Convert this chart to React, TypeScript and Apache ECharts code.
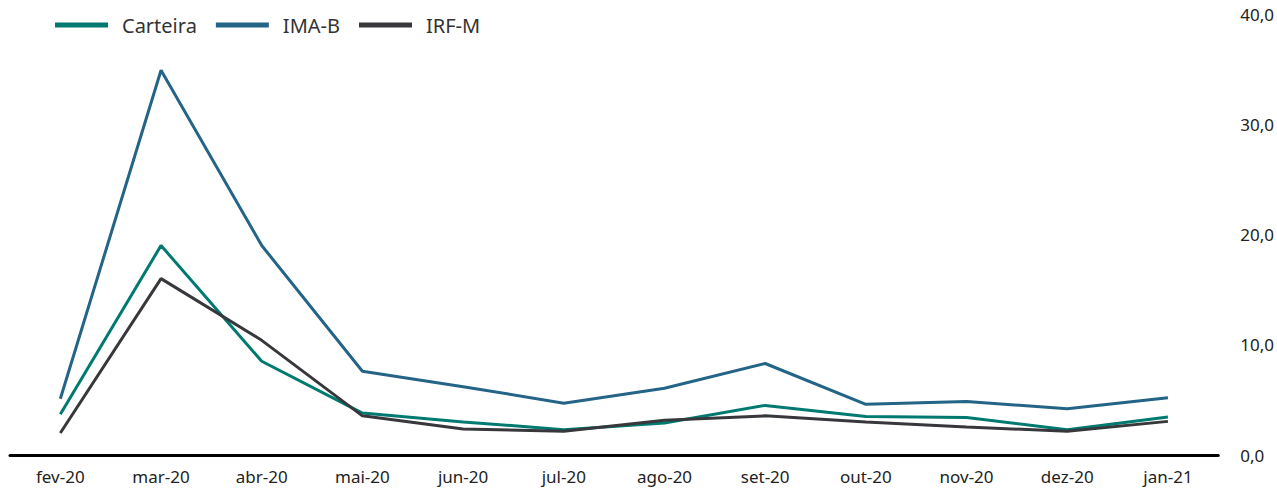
import React, { useEffect, useRef } from "react";
import * as echarts from "echarts";

const categories = ["fev-20", "mar-20", "abr-20", "mai-20", "jun-20", "jul-20", "ago-20", "set-20", "out-20", "nov-20", "dez-20", "jan-21"];
const carteira = [3.7, 19.0, 8.5, 3.8, 3.0, 2.3, 2.9, 4.5, 3.5, 3.4, 2.3, 3.45];
const imaB = [5.1, 34.9, 19.0, 7.6, 6.2, 4.7, 6.05, 8.3, 4.6, 4.85, 4.2, 5.2];
const irfM = [2.0, 16.0, 10.4, 3.55, 2.35, 2.15, 3.15, 3.55, 3.0, 2.55, 2.15, 3.05];
const yTicks = [0, 10, 20, 30, 40];

const FONT = "Noto Sans";

export default function App() {
  const ref = useRef<HTMLDivElement>(null);
  useEffect(() => {
    document.body.style.margin = "0";
    if (!ref.current) return;
    const chart = echarts.init(ref.current, null, { renderer: "svg" });
    const mk = (name: string, data: number[], color: string) => ({
      name,
      type: "line",
      data,
      symbol: "none",
      lineStyle: { width: 3, color },
      itemStyle: { color },
    });
    chart.setOption({
      animation: false,
      textStyle: { fontFamily: FONT },
      legend: {
        left: 50,
        top: 10,
        icon: "rect",
        itemWidth: 53,
        itemHeight: 5,
        itemGap: 19,
        textStyle: { fontSize: 20, color: "#333", fontFamily: FONT, padding: [0, 0, 0, 9] },
        data: ["Carteira", "IMA-B", "IRF-M"],
      },
      grid: { left: 10, right: 56, top: 14, bottom: 33, containLabel: false },
      xAxis: {
        type: "category",
        data: categories,
        boundaryGap: true,
        axisLine: { show: true, lineStyle: { color: "#000", width: 3 } },
        axisTick: { show: false },
        axisLabel: { fontSize: 17, color: "#222", margin: 13, fontFamily: FONT, interval: 0 },
      },
      yAxis: {
        type: "value",
        position: "right",
        min: yTicks[0],
        max: yTicks[yTicks.length - 1],
        interval: 10,
        axisLine: { show: false },
        axisTick: { show: false },
        splitLine: { show: false },
        axisLabel: {
          fontSize: 17,
          color: "#222",
          margin: 22,
          fontFamily: FONT,
          formatter: (v: number) => v.toFixed(1).replace(".", ","),
        },
      },
      series: [
        mk("Carteira", carteira, "#007a70"),
        mk("IMA-B", imaB, "#236487"),
        mk("IRF-M", irfM, "#38383c"),
      ],
    });
    return () => chart.dispose();
  }, []);
  return <div ref={ref} style={{ width: 1277, height: 488 }} />;
}
